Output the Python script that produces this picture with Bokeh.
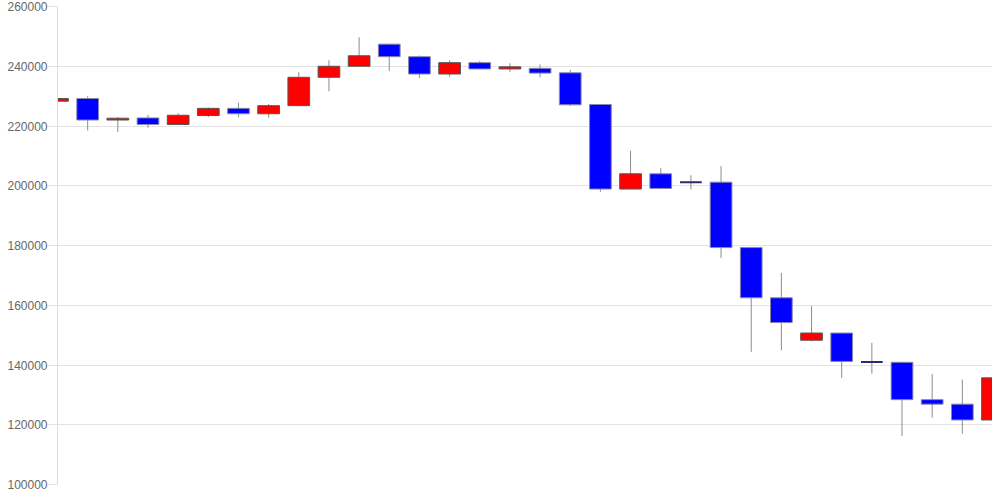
from bokeh.plotting import figure
from bokeh.models import ColumnDataSource, Range1d, FixedTicker, BasicTickFormatter
from bokeh.embed import file_html
from bokeh.resources import INLINE

opens  = [228300, 229200, 222000, 222700, 220500, 223500, 225900, 224100, 226800, 236300,
          240000, 247400, 243200, 237400, 241200, 239100, 239300, 237800, 227200, 198900,
          204000, 201200, 201200, 179300, 162500, 148300, 150700, 141000, 140900, 128400,
          126900, 121600]
closes = [229200, 222000, 222600, 220500, 223600, 225900, 224100, 226800, 236300, 240000,
          243500, 243200, 237400, 241200, 239100, 239800, 237700, 227100, 198900, 204000,
          199100, 201200, 179300, 162500, 154200, 150700, 141200, 141000, 128400, 126900,
          121600, 135700]
highs  = [230300, 230000, 223000, 223700, 224300, 226200, 227800, 227400, 238000, 242000,
          249700, 247500, 243600, 242000, 241800, 241000, 240600, 238800, 227200, 211700,
          205900, 203500, 206600, 179300, 170800, 159700, 150700, 147400, 140900, 137000,
          135100, 136300]
lows   = [228000, 218500, 218000, 219400, 220400, 223000, 223000, 222800, 226700, 231600,
          240000, 238400, 236100, 236500, 239100, 238100, 236300, 226700, 198000, 198900,
          198800, 198800, 175800, 144400, 145000, 147900, 135700, 137100, 116200, 122400,
          117000, 121600]
y_ticks = [100000, 120000, 140000, 160000, 180000, 200000, 220000, 240000, 260000]

idx = list(range(len(opens)))
tops = [max(o, c) for o, c in zip(opens, closes)]
bots = [min(o, c) for o, c in zip(opens, closes)]
cols = ["#ff0000" if c > o else "#0000ff" for o, c in zip(opens, closes)]
edges = ["#555555" if c > o else "#8888aa" for o, c in zip(opens, closes)]

body_i = [i for i in idx if opens[i] != closes[i]]
doji_i = [i for i in idx if opens[i] == closes[i]]

wick_src = ColumnDataSource(dict(x=idx, hi=highs, lo=lows))
body_src = ColumnDataSource(dict(x=[idx[i] for i in body_i], top=[tops[i] for i in body_i],
                                 bottom=[bots[i] for i in body_i], color=[cols[i] for i in body_i],
                                 edge=[edges[i] for i in body_i]))
doji_src = ColumnDataSource(dict(x0=[idx[i] - 0.36 for i in doji_i], x1=[idx[i] + 0.36 for i in doji_i],
                                 y=[opens[i] for i in doji_i]))

p = figure(width=992, height=492, output_backend="svg", toolbar_location=None,
           x_range=Range1d(0, len(opens) - 1), y_range=Range1d(100000, 260000),
           min_border_left=57, min_border_right=0, min_border_top=6, min_border_bottom=8)
p.outline_line_color = None
p.background_fill_color = "white"
p.border_fill_color = "white"

p.segment(x0="x", y0="hi", x1="x", y1="lo", source=wick_src, line_color="#8c8c8c", line_width=1)
p.vbar(x="x", top="top", bottom="bottom", width=0.72, source=body_src,
       fill_color="color", line_color="edge", line_width=1)
p.segment(x0="x0", y0="y", x1="x1", y1="y", source=doji_src, line_color="#2b2b70", line_width=2)

p.xaxis.visible = False
p.xgrid.visible = False
p.ygrid.grid_line_color = "#e3e3e3"
p.ygrid.grid_line_width = 1

ax = p.yaxis[0]
ax.ticker = FixedTicker(ticks=y_ticks)
ax.formatter = BasicTickFormatter(use_scientific=False)
ax.axis_line_color = "#dddddd"
ax.major_tick_line_color = "#e3e3e3"
ax.major_tick_out = 10
ax.major_tick_in = 0
ax.minor_tick_line_color = None
ax.major_label_standoff = 0
ax.major_label_text_font = "Liberation Sans"
ax.major_label_text_font_size = "12px"
ax.major_label_text_color = "#666666"

open("out.html", "w").write(file_html(p, INLINE))
